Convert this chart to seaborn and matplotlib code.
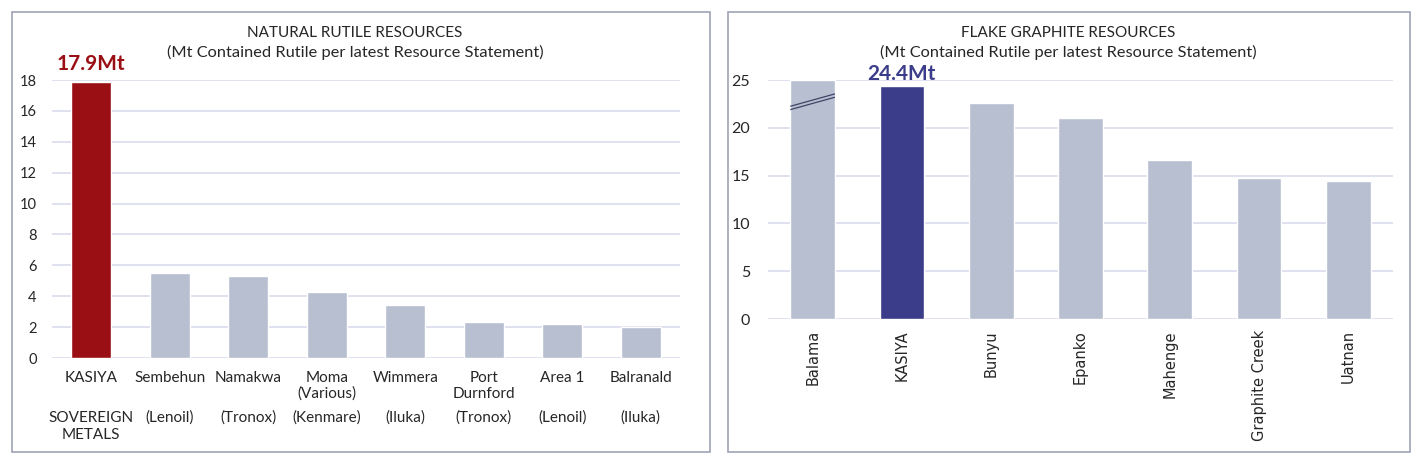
import pandas as pd
import numpy as np
import matplotlib.pyplot as plt
import seaborn as sns
from matplotlib.patches import Rectangle

rutile_names = ['KASIYA', 'Sembehun', 'Namakwa', 'Moma\n(Various)', 'Wimmera', 'Port\nDurnford', 'Area 1', 'Balranald']
rutile_owners = ['SOVEREIGN\nMETALS', '(Lenoil)', '(Tronox)', '(Kenmare)', '(Iluka)', '(Tronox)', '(Lenoil)', '(Iluka)']
rutile_mt = [17.9, 5.5, 5.3, 4.3, 3.4, 2.3, 2.2, 2.0]

graphite_names = ['Balama', 'KASIYA', 'Bunyu', 'Epanko', 'Mahenge', 'Graphite Creek', 'Uatnan']
graphite_mt = [25.0, 24.4, 22.6, 21.0, 16.6, 14.7, 14.4]

red = '#9A0F14'
navy = '#3B3D8A'
grey = '#B8BFD0'
grid_c = '#DADBEE'
txt = '#262626'

sns.set_theme(style='white')
plt.rcParams['font.family'] = ['Lato', 'DejaVu Sans']

fig = plt.figure(figsize=(14.19, 4.61), dpi=100)

# panel frames
for x0, w in [(12, 698), (728, 682)]:
    fig.patches.append(Rectangle((x0 / 1419, 1 - 452 / 461), w / 1419, 440 / 461,
                                 transform=fig.transFigure, fill=False,
                                 edgecolor='#9EA3B5', linewidth=1.2))

# ---- left: rutile
ax1 = fig.add_axes([52 / 1419, 1 - 358 / 461, 628 / 1419, 278 / 461])
df1 = pd.DataFrame({'name': rutile_names, 'mt': rutile_mt})
pal1 = [red] + [grey] * (len(rutile_names) - 1)
sns.barplot(data=df1, x='name', y='mt', hue='name', palette=pal1, legend=False,
            width=0.51, saturation=1, ax=ax1, zorder=3)
ax1.set_ylim(0, 18)
ax1.set_xlim(-0.5, 7.5)
ax1.set_yticks(range(0, 19, 2))
ax1.yaxis.grid(True, color=grid_c, linewidth=1.2, zorder=0)
ax1.set_xlabel('')
ax1.set_ylabel('')
for s in ax1.spines.values():
    s.set_visible(False)
ax1.tick_params(axis='both', length=0, labelsize=11, colors=txt)
ax1.tick_params(axis='y', labelsize=10.5, pad=11)
ax1.tick_params(axis='x', pad=9)
for i, o in enumerate(rutile_owners):
    ax1.text(i, -0.19, o, transform=ax1.get_xaxis_transform(), ha='center', va='top',
             fontsize=11, color=txt, linespacing=1.3)
ax1.text(0, rutile_mt[0] + 0.5, f'{rutile_mt[0]}Mt', ha='center', va='bottom',
         fontsize=15, fontweight='bold', color=red)
fig.text(355 / 1419, 1 - 33 / 461, 'NATURAL RUTILE RESOURCES', ha='center', va='center',
         fontsize=11, color=txt)
fig.text(355 / 1419, 1 - 52 / 461, '(Mt Contained Rutile per latest Resource Statement)',
         ha='center', va='center', fontsize=11.8, color=txt)

# ---- right: graphite
ax2 = fig.add_axes([768 / 1419, 1 - 319 / 461, 625 / 1419, 239 / 461])
df2 = pd.DataFrame({'name': graphite_names, 'mt': graphite_mt})
pal2 = [grey, navy] + [grey] * (len(graphite_names) - 2)
sns.barplot(data=df2, x='name', y='mt', hue='name', palette=pal2, legend=False,
            width=0.5, saturation=1, ax=ax2, zorder=3)
ax2.set_ylim(0, 25)
ax2.set_xlim(-0.5, 6.5)
ax2.set_yticks(range(0, 26, 5))
ax2.yaxis.grid(True, color=grid_c, linewidth=1.2, zorder=0)
ax2.set_xlabel('')
ax2.set_ylabel('')
for s in ax2.spines.values():
    s.set_visible(False)
ax2.tick_params(axis='both', length=0, labelsize=11, colors=txt)
ax2.tick_params(axis='y', labelsize=11.5, pad=13)
ax2.tick_params(axis='x', pad=8)
ax2.set_xticks(range(len(graphite_names)))
ax2.set_xticklabels(graphite_names, rotation=90, fontsize=10.5, family=['DejaVu Sans'])
# axis-break marks on the truncated Balama bar
bx = np.array([-0.25, 0.25])
for off in (0.0, 0.35):
    ax2.plot(bx, np.array([21.9, 23.2]) + off, color='#3E4466', linewidth=0.9, zorder=5,
             solid_capstyle='butt')
ax2.text(1, graphite_mt[1] + 0.2, f'{graphite_mt[1]}Mt', ha='center', va='bottom',
         fontsize=15, fontweight='bold', color=navy)
fig.text(1068 / 1419, 1 - 33 / 461, 'FLAKE GRAPHITE RESOURCES', ha='center', va='center',
         fontsize=11, color=txt)
fig.text(1068 / 1419, 1 - 52 / 461, '(Mt Contained Rutile per latest Resource Statement)',
         ha='center', va='center', fontsize=11.8, color=txt)

fig.savefig('out.png', dpi=100, facecolor='white')
